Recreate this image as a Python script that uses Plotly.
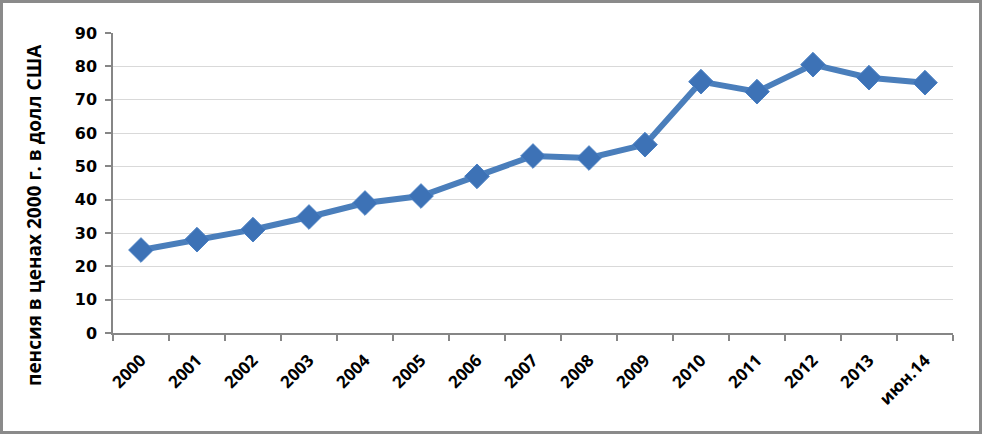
import plotly.graph_objects as go

categories = ["2000", "2001", "2002", "2003", "2004", "2005", "2006", "2007",
              "2008", "2009", "2010", "2011", "2012", "2013", "июн.14"]
pension = [24.9, 28.0, 31.0, 34.8, 39.0, 41.1, 47.0, 53.1,
           52.5, 56.5, 75.4, 72.4, 80.5, 76.6, 75.1]
y_ticks = [0, 10, 20, 30, 40, 50, 60, 70, 80, 90]
y_title = "пенсия в ценах 2000 г. в долл США"

W, H = 982, 434
ML, MR, MT, MB = 113, 29, 33, 101
PW, PH = W - ML - MR, H - MT - MB

fig = go.Figure()
fig.add_trace(go.Scatter(
    x=categories, y=pension, mode="lines+markers",
    line=dict(color="#4a7ebb", width=6),
    marker=dict(symbol="diamond", size=19, color="#3d72b6",
                line=dict(color="#4a80c4", width=1)),
    hoverinfo="x+y", showlegend=False,
))

fig.update_layout(
    width=W, height=H,
    margin=dict(l=ML, r=MR, t=MT, b=MB, autoexpand=False),
    paper_bgcolor="white", plot_bgcolor="white",
    font=dict(family="DejaVu Sans", color="black"),
    xaxis=dict(
        type="category", range=[-0.5, len(categories) - 0.5], automargin=False,
        showline=True, linecolor="#868686", linewidth=1.5,
        ticks="outside", ticklen=6, tickcolor="#868686", tickwidth=1.5,
        tickson="boundaries", showgrid=False, tickangle=-45,
        tickfont=dict(family="Open Sans", size=17, color="black", weight="bold"),
        ticklabelstandoff=9,
    ),
    yaxis=dict(
        range=[0, 90], tickvals=y_ticks, automargin=False,
        showline=True, linecolor="#868686", linewidth=1.5,
        ticks="outside", ticklen=6, tickcolor="#868686", tickwidth=1.5,
        showgrid=True, gridcolor="#d9d9d9", gridwidth=1,
        zeroline=False,
        tickfont=dict(family="DejaVu Sans", size=16, color="black", weight="bold"),
        ticklabelstandoff=5,
    ),
)

fig.add_annotation(
    text="<b>" + y_title + "</b>", textangle=-90, showarrow=False,
    xref="paper", yref="paper",
    x=(34 - ML) / PW, y=(H - MB - 215) / PH,
    xanchor="center", yanchor="middle",
    font=dict(family="Open Sans", size=19, color="black"),
)

# outer gray frame of the chart area
fig.add_shape(
    type="rect", xref="paper", yref="paper",
    x0=(1.5 - ML) / PW, x1=(W - 1.5 - ML) / PW,
    y0=-(MB - 1.5) / PH, y1=(H - 1.5 - MB) / PH,
    line=dict(color="#8a8a8a", width=3), layer="below",
)

fig.write_html("out.html", config={"displayModeBar": False},
               post_script="document.body.style.margin='0';")
